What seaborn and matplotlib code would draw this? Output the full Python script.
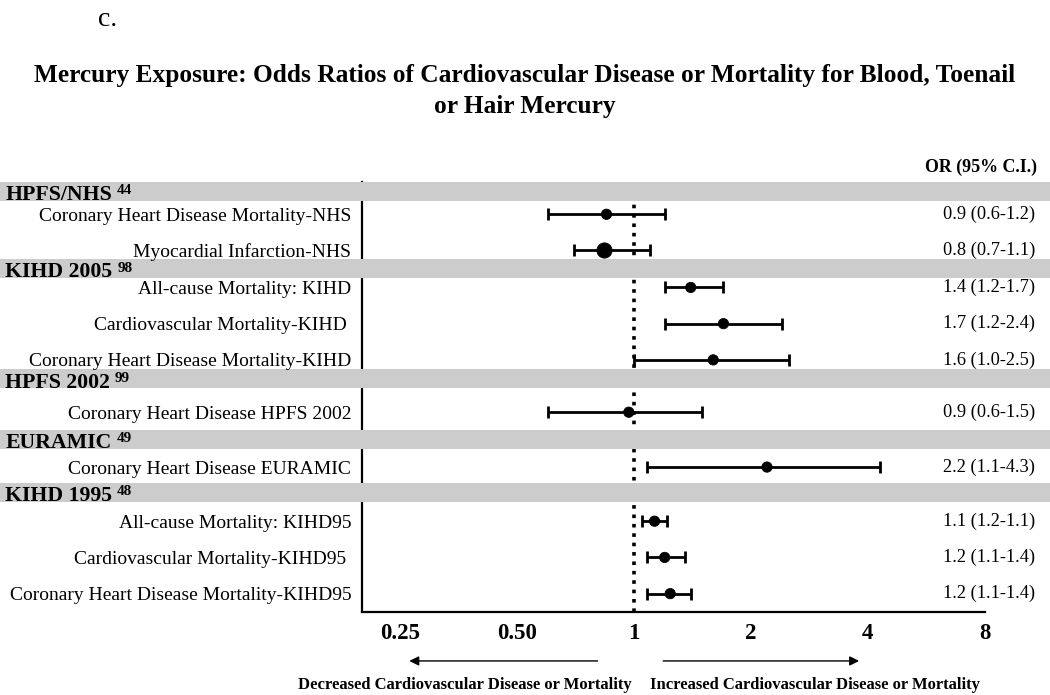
import numpy as np
import pandas as pd
import matplotlib
matplotlib.use("Agg")
import matplotlib.pyplot as plt
import matplotlib.transforms as mtransforms
import seaborn as sns

# данные: группы исследований, исходы, OR и 95% ДИ
groups = ["HPFS/NHS", "KIHD 2005", "HPFS 2002", "EURAMIC", "KIHD 1995"]
group_refs = ["44", "98", "99", "49", "48"]
group_sizes = [2, 3, 1, 1, 3]

outcomes = [
    "Coronary Heart Disease Mortality-NHS",
    "Myocardial Infarction-NHS",
    "All-cause Mortality: KIHD",
    "Cardiovascular Mortality-KIHD ",
    "Coronary Heart Disease Mortality-KIHD",
    "Coronary Heart Disease HPFS 2002",
    "Coronary Heart Disease EURAMIC",
    "All-cause Mortality: KIHD95",
    "Cardiovascular Mortality-KIHD95 ",
    "Coronary Heart Disease Mortality-KIHD95",
]
odds = [0.85, 0.84, 1.40, 1.70, 1.60, 0.97, 2.20, 1.13, 1.20, 1.24]
ci_low = [0.60, 0.70, 1.20, 1.20, 1.00, 0.60, 1.08, 1.05, 1.08, 1.08]
ci_high = [1.20, 1.10, 1.70, 2.40, 2.50, 1.50, 4.30, 1.22, 1.35, 1.40]
or_labels = ["0.9 (0.6-1.2)", "0.8 (0.7-1.1)", "1.4 (1.2-1.7)", "1.7 (1.2-2.4)",
             "1.6 (1.0-2.5)", "0.9 (0.6-1.5)", "2.2 (1.1-4.3)", "1.1 (1.2-1.1)",
             "1.2 (1.1-1.4)", "1.2 (1.1-1.4)"]
marker_sizes = [55, 110, 55, 55, 55, 55, 55, 55, 55, 55]

x_ticks = [0.25, 0.5, 1, 2, 4, 8]
x_ticklabels = ["0.25", "0.50", "1", "2", "4", "8"]

# раскладка строк (в высотах строки): отступы до и после заголовка группы
gap_before_header = [0.0, 0.49, 0.52, 0.74, 0.69]
gap_after_header = [0.63, 0.52, 0.91, 0.76, 0.79]

header_pos = []
item_pos = []
pos = 0.0
for i, n in enumerate(group_sizes):
    pos += gap_before_header[i]
    header_pos.append(pos)
    pos += gap_after_header[i]
    for k in range(n):
        if k > 0:
            pos += 0.99
        item_pos.append(pos)

df = pd.DataFrame({"outcome": outcomes, "y": item_pos, "odds": odds,
                   "low": ci_low, "high": ci_high, "size": marker_sizes})

sns.set_style("white")
plt.rcParams["font.family"] = ["Liberation Serif", "DejaVu Serif"]
plt.rcParams["text.color"] = "black"
plt.rcParams["xtick.color"] = "black"
plt.rcParams["ytick.color"] = "black"

fig = plt.figure(figsize=(10.5, 6.95), dpi=100)
ax = fig.add_axes([0.345, 0.119, 0.593, 0.619])

# доверительные интервалы
ax.errorbar(df["odds"], df["y"],
            xerr=[df["odds"] - df["low"], df["high"] - df["odds"]],
            fmt="none", ecolor="black", elinewidth=2, capsize=4, capthick=2, zorder=3)
sns.scatterplot(data=df, x="odds", y="y", size="size", sizes=(55, 120),
                color="black", edgecolor="black", legend=False, ax=ax, zorder=4)

ax.axvline(1, color="black", linestyle=(0, (1, 1.6)), linewidth=2.6, zorder=2)

ax.set_xscale("log", base=2)
ax.set_xlim(0.2, 8)
ax.set_ylim(11.51, -0.25)
ax.set_xticks(x_ticks)
ax.set_xticklabels(x_ticklabels, fontsize=16.5, fontweight="bold")
ax.minorticks_off()
ax.set_yticks(item_pos)
ax.set_yticklabels(outcomes, fontsize=14)
ax.tick_params(axis="both", direction="out", length=5, width=1.5, color="black")
ax.tick_params(axis="x", pad=3)
ax.tick_params(axis="y", pad=3)
ax.yaxis.set_zorder(6)
ax.set_xlabel("")
ax.set_ylabel("")
for side in ["top", "right"]:
    ax.spines[side].set_visible(False)
for side in ["left", "bottom"]:
    ax.spines[side].set_linewidth(1.6)
    ax.spines[side].set_color("black")

# серые полосы с названиями групп на всю ширину рисунка
trans = mtransforms.blended_transform_factory(fig.transFigure, ax.transData)
for name, ref, hp in zip(groups, group_refs, header_pos):
    ax.add_patch(plt.Rectangle((0, hp - 0.26), 1, 0.52, transform=trans,
                               facecolor="#cccccc", edgecolor="none",
                               clip_on=False, zorder=5))
    t = ax.text(0.005, hp + 0.24, name, transform=trans, fontsize=15.7,
                fontweight="bold", ha="left", va="baseline", zorder=7)
    ax.annotate(ref, xy=(1, 1), xycoords=t, xytext=(3.5, 0.5), textcoords="offset points",
                fontsize=11, fontweight="bold", ha="left", va="top", zorder=7,
                annotation_clip=False)

for lab, yp in zip(or_labels, item_pos):
    ax.text(0.986, yp, lab, transform=trans, fontsize=13.2, ha="right", va="center")
ax.text(0.988, -0.65, "OR (95% C.I.)", transform=trans, fontsize=12.9,
        fontweight="bold", ha="right", va="center")

# стрелки и подписи под осью
arr_tr = mtransforms.blended_transform_factory(ax.transData, fig.transFigure)
ax.annotate("", xy=(0.26, 0.049), xytext=(0.82, 0.049), xycoords=arr_tr,
            textcoords=arr_tr, arrowprops=dict(arrowstyle="-|>", color="black",
                                               lw=1, mutation_scale=14))
ax.annotate("", xy=(3.86, 0.049), xytext=(1.17, 0.049), xycoords=arr_tr,
            textcoords=arr_tr, arrowprops=dict(arrowstyle="-|>", color="black",
                                               lw=1, mutation_scale=14))
fig.text(0.443, 0.003, "Decreased Cardiovascular Disease or Mortality", fontsize=12,
         fontweight="bold", ha="center", va="bottom")
fig.text(0.776, 0.003, "Increased Cardiovascular Disease or Mortality", fontsize=12,
         fontweight="bold", ha="center", va="bottom")

fig.text(0.5, 0.869,
         "Mercury Exposure: Odds Ratios of Cardiovascular Disease or Mortality for Blood, Toenail\nor Hair Mercury",
         fontsize=18.3, fontweight="bold", ha="center", va="center", linespacing=1.4)
fig.text(0.093, 0.972, "c.", fontsize=20, ha="left", va="center")

fig.savefig("out.png", dpi=100)
